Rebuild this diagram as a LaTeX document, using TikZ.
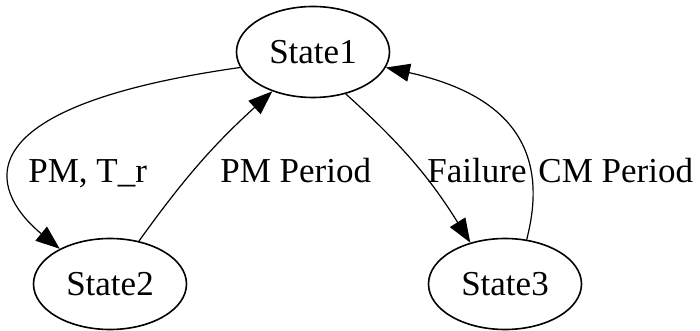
\documentclass[tikz,border=0pt]{standalone}
\usepackage{fontspec}
\setmainfont{Liberation Serif}
\usetikzlibrary{shapes.geometric,arrows.meta}

\begin{document}
\begin{tikzpicture}[x=0.5pt, y=-0.5pt,
    state/.style={draw, thick, ellipse, minimum width=76.5pt, minimum height=45.5pt, inner sep=0pt, font=\fontsize{17.5}{20}\selectfont},
    lbl/.style={anchor=base west, inner sep=0pt, font=\fontsize{17.5}{20}\selectfont},
    edge/.style={semithick, -{Triangle[length=12pt, width=9pt]}}]
    \useasboundingbox (0, 0) rectangle (700, 331);

    % The three states
    \node[state] (state1) at (313, 52) {State1};
    \node[state] (state2) at (110, 284) {State2};
    \node[state] (state3) at (505, 284) {State3};

    % Edge labels
    \node[lbl] (pmtr) at (28, 183) {PM, T\_r};
    \node[lbl] (pmper) at (220, 183) {PM Period};
    \node[lbl] (fail) at (427, 183) {Failure};
    \node[lbl] (cmper) at (538, 183) {CM Period};

    % Transitions
    \draw[edge] (state1.192) .. controls (-60, 110) and (0, 200) .. (state2.145);
    \draw[edge] (state2.56) to[bend left=6] (state1.224);
    \draw[edge] (state1.308) to[bend left=8] (state3.130);
    \draw[edge] (state3.64) .. controls (550, 150) and (510, 95) .. (state1.348);
\end{tikzpicture}
\end{document}
